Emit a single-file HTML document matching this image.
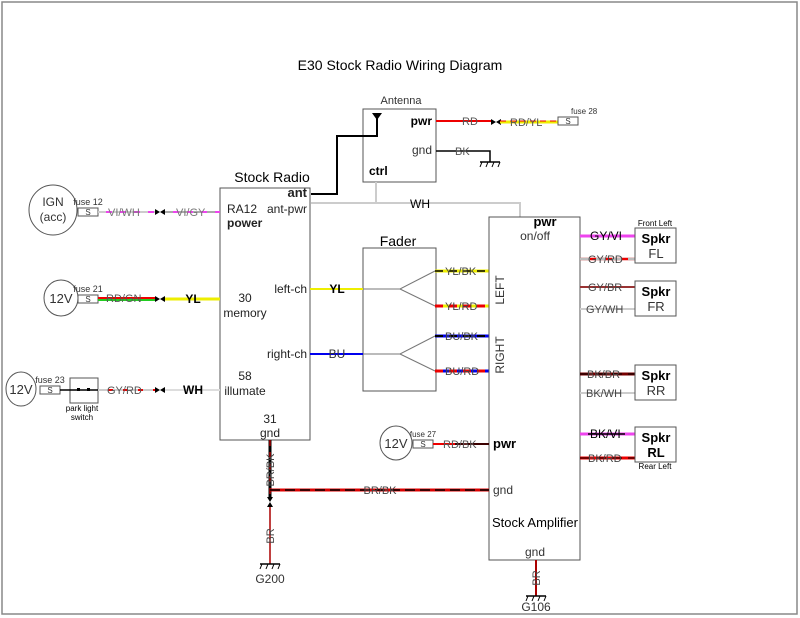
<!DOCTYPE html>
<html><head><meta charset="utf-8"><style>
html,body{margin:0;padding:0;background:#fff}
svg{display:block;font-family:"Liberation Sans",Arial,sans-serif}
</style></head><body>
<svg width="800" height="618" viewBox="0 0 800 618" xmlns="http://www.w3.org/2000/svg">
<defs>
<g id="gnd"><line x1="-10" y1="0" x2="10" y2="0" stroke="#000" stroke-width="1.5"/><line x1="-8" y1="0" x2="-10" y2="5" stroke="#000"/><line x1="-2" y1="0" x2="-4" y2="5" stroke="#000"/><line x1="4" y1="0" x2="2" y2="5" stroke="#000"/><line x1="10" y1="0" x2="8" y2="5" stroke="#000"/></g>
<g id="con"><path d="M-5,-3 L0,0 L-5,3Z M5,-3 L0,0 L5,3Z" fill="#000"/></g>
<g id="fuse"><rect x="0" y="-4" width="20" height="8" fill="#fff" stroke="#555"/><text x="10" y="3" font-size="8" text-anchor="middle" fill="#333">S</text></g>
</defs>
<rect x="2" y="2" width="795" height="612" fill="#fff" stroke="#888" stroke-width="1.5"/>
<text x="400" y="70" font-size="14" text-anchor="middle">E30 Stock Radio Wiring Diagram</text>

<!-- Radio -->
<text x="272" y="182" font-size="14" text-anchor="middle">Stock Radio</text>
<rect x="220" y="188" width="90" height="252" fill="#fff" stroke="#555"/>
<g font-size="12" fill="#222">
<text x="307" y="197" text-anchor="end" font-weight="bold" font-size="13">ant</text>
<text x="307" y="213" text-anchor="end">ant-pwr</text>
<text x="227" y="213">RA12</text>
<text x="227" y="227" font-weight="bold">power</text>
<text x="307" y="293" text-anchor="end">left-ch</text>
<text x="307" y="358" text-anchor="end">right-ch</text>
<text x="245" y="302" text-anchor="middle">30</text>
<text x="245" y="317" text-anchor="middle">memory</text>
<text x="245" y="380" text-anchor="middle">58</text>
<text x="245" y="395" text-anchor="middle">illumate</text>
<text x="270" y="423" text-anchor="middle">31</text>
<text x="270" y="437" text-anchor="middle">gnd</text>
</g>

<!-- Antenna -->
<text x="401" y="104" font-size="11" text-anchor="middle" fill="#333">Antenna</text>
<rect x="363" y="109" width="73" height="73" fill="#fff" stroke="#555"/>
<text x="432" y="125" font-size="12" font-weight="bold" text-anchor="end">pwr</text>
<text x="432" y="154" font-size="12" text-anchor="end" fill="#333">gnd</text>
<text x="369" y="175" font-size="12" font-weight="bold">ctrl</text>
<path d="M372,113 L382,113 L377,120Z" fill="#000"/><line x1="377" y1="113" x2="377" y2="120" stroke="#000" stroke-width="2"/>
<polyline points="311,194 337,194 337,136 377,136 377,120" fill="none" stroke="#000" stroke-width="2"/>
<!-- ant pwr WH -->
<polyline points="311,203 520,203 520,217" fill="none" stroke="#ccc" stroke-width="2"/>
<line x1="376" y1="182" x2="376" y2="203" stroke="#ccc" stroke-width="2"/>
<text x="420" y="208" font-size="12" text-anchor="middle">WH</text>
<!-- antenna pwr -->
<line x1="436" y1="121" x2="492" y2="121" stroke="#e00" stroke-width="2"/>
<use href="#con" x="496" y="122"/>
<line x1="500" y1="122" x2="558" y2="122" stroke="#ee0" stroke-width="3"/>
<line x1="500" y1="121" x2="558" y2="121" stroke="#e00" stroke-width="1" stroke-dasharray="6,4"/>
<text x="462" y="125" font-size="11" fill="#555">RD</text>
<text x="510" y="126" font-size="11" fill="#555">RD/YL</text>
<use href="#fuse" x="558" y="121"/>
<text x="571" y="114" font-size="8" fill="#333">fuse 28</text>
<polyline points="436,151 490,151 490,162" fill="none" stroke="#000" stroke-width="1.5"/>
<text x="455" y="155" font-size="11" fill="#555">BK</text>
<use href="#gnd" x="490" y="162"/>

<!-- IGN -->
<ellipse cx="53" cy="210" rx="24" ry="25" fill="#fff" stroke="#555"/>
<text x="53" y="206" font-size="12" text-anchor="middle" fill="#333">IGN</text>
<text x="53" y="221" font-size="12" text-anchor="middle" fill="#333">(acc)</text>
<use href="#fuse" x="78" y="212"/>
<text x="88" y="205" font-size="9" text-anchor="middle" fill="#333">fuse 12</text>
<line x1="98" y1="212" x2="155" y2="212" stroke="#e4e" stroke-width="2"/>
<line x1="98" y1="212" x2="155" y2="212" stroke="#ccc" stroke-width="2" stroke-dasharray="8,6"/>
<text x="108" y="216" font-size="11" fill="#777">VI/WH</text>
<use href="#con" x="160" y="212"/>
<line x1="165" y1="212" x2="220" y2="212" stroke="#e4e" stroke-width="2"/>
<line x1="165" y1="212" x2="220" y2="212" stroke="#aaa" stroke-width="2" stroke-dasharray="8,6"/>
<text x="176" y="216" font-size="11" fill="#777">VI/GY</text>

<!-- 12V fuse 21 -->
<ellipse cx="61" cy="298" rx="17" ry="18" fill="#fff" stroke="#555"/>
<text x="61" y="303" font-size="13" text-anchor="middle" fill="#333">12V</text>
<use href="#fuse" x="78" y="299"/>
<text x="88" y="292" font-size="9" text-anchor="middle" fill="#333">fuse 21</text>
<line x1="98" y1="298" x2="155" y2="298" stroke="#e00" stroke-width="2"/>
<line x1="98" y1="300" x2="155" y2="300" stroke="#2c2" stroke-width="2"/>
<text x="106" y="302" font-size="11" fill="#555">RD/GN</text>
<use href="#con" x="160" y="299"/>
<line x1="165" y1="299" x2="220" y2="299" stroke="#ee0" stroke-width="3"/>
<text x="193" y="303" font-size="12" text-anchor="middle" font-weight="bold">YL</text>

<!-- 12V fuse 23 -->
<ellipse cx="21" cy="389" rx="15" ry="17" fill="#fff" stroke="#555"/>
<text x="21" y="394" font-size="13" text-anchor="middle" fill="#333">12V</text>
<use href="#fuse" x="40" y="390"/>
<text x="50" y="383" font-size="9" text-anchor="middle" fill="#333">fuse 23</text>
<rect x="70" y="378" width="28" height="25" fill="#fff" stroke="#555"/>
<line x1="60" y1="390" x2="98" y2="390" stroke="#000" stroke-width="1.5"/>
<rect x="77" y="388" width="3" height="3" fill="#000"/><rect x="87" y="388" width="3" height="3" fill="#000"/>
<text x="82" y="411" font-size="8" text-anchor="middle">park light</text>
<text x="82" y="420" font-size="8" text-anchor="middle">switch</text>
<line x1="98" y1="390" x2="155" y2="390" stroke="#e00" stroke-width="2"/>
<line x1="98" y1="390" x2="155" y2="390" stroke="#ccc" stroke-width="2" stroke-dasharray="10,5"/>
<text x="107" y="394" font-size="11" fill="#555">GY/RD</text>
<use href="#con" x="160" y="390"/>
<line x1="165" y1="390" x2="220" y2="390" stroke="#ddd" stroke-width="2"/>
<text x="193" y="394" font-size="12" text-anchor="middle" font-weight="bold">WH</text>

<!-- Fader -->
<text x="398" y="246" font-size="14" text-anchor="middle">Fader</text>
<rect x="363" y="248" width="73" height="143" fill="#fff" stroke="#555"/>
<line x1="310" y1="289" x2="363" y2="289" stroke="#ee0" stroke-width="2"/>
<text x="337" y="293" font-size="12" text-anchor="middle" font-weight="bold">YL</text>
<line x1="310" y1="354" x2="363" y2="354" stroke="#00e" stroke-width="2"/>
<text x="337" y="358" font-size="12" text-anchor="middle" fill="#333">BU</text>
<polyline points="363,289 400,289 435,271" fill="none" stroke="#777"/>
<line x1="400" y1="289" x2="435" y2="306" stroke="#777"/>
<polyline points="363,354 400,354 435,336" fill="none" stroke="#777"/>
<line x1="400" y1="354" x2="435" y2="371" stroke="#777"/>
<line x1="435" y1="271" x2="489" y2="271" stroke="#ee0" stroke-width="3"/>
<line x1="435" y1="271" x2="489" y2="271" stroke="#000" stroke-width="1.5" stroke-dasharray="8,6"/>
<line x1="435" y1="306" x2="489" y2="306" stroke="#ee0" stroke-width="3"/>
<line x1="435" y1="306" x2="489" y2="306" stroke="#e00" stroke-width="3" stroke-dasharray="8,6"/>
<line x1="435" y1="336" x2="489" y2="336" stroke="#00e" stroke-width="3"/>
<line x1="435" y1="336" x2="489" y2="336" stroke="#000" stroke-width="2" stroke-dasharray="8,6"/>
<line x1="435" y1="371" x2="489" y2="371" stroke="#00e" stroke-width="3"/>
<line x1="435" y1="371" x2="489" y2="371" stroke="#e00" stroke-width="3" stroke-dasharray="8,6"/>
<g font-size="11" fill="#444">
<text x="445" y="275">YL/BK</text><text x="445" y="310">YL/RD</text>
<text x="445" y="340">BU/BK</text><text x="445" y="375">BU/RD</text>
</g>

<!-- Amp -->
<rect x="489" y="217" width="91" height="343" fill="#fff" stroke="#555"/>
<text x="545" y="226" font-size="13" text-anchor="middle" font-weight="bold">pwr</text>
<text x="535" y="240" font-size="12" text-anchor="middle" fill="#333">on/off</text>
<text transform="translate(504,290) rotate(-90)" font-size="12" text-anchor="middle" fill="#333">LEFT</text>
<text transform="translate(504,355) rotate(-90)" font-size="12" text-anchor="middle" fill="#333">RIGHT</text>
<text x="493" y="448" font-size="13" font-weight="bold">pwr</text>
<text x="493" y="494" font-size="12" fill="#333">gnd</text>
<text x="535" y="527" font-size="13" text-anchor="middle">Stock Amplifier</text>
<text x="535" y="556" font-size="12" text-anchor="middle" fill="#333">gnd</text>

<!-- 12V fuse 27 -->
<ellipse cx="396" cy="443" rx="16" ry="17" fill="#fff" stroke="#555"/>
<text x="396" y="448" font-size="13" text-anchor="middle" fill="#333">12V</text>
<use href="#fuse" x="413" y="444"/>
<text x="423" y="437" font-size="8" text-anchor="middle" fill="#333">fuse 27</text>
<line x1="433" y1="444" x2="489" y2="444" stroke="#e00" stroke-width="2"/>
<line x1="455" y1="444" x2="489" y2="444" stroke="#000" stroke-width="1.5"/>
<text x="443" y="448" font-size="11" fill="#555">RD/BK</text>

<!-- Speakers -->
<g font-size="11" fill="#444">
<line x1="580" y1="236" x2="635" y2="236" stroke="#e4e" stroke-width="3"/>
<text x="590" y="240" fill="#000" font-size="12">GY/VI</text>
<line x1="580" y1="259" x2="635" y2="259" stroke="#e00" stroke-width="2.5"/>
<line x1="580" y1="259" x2="635" y2="259" stroke="#bbb" stroke-width="2.5" stroke-dasharray="10,6"/>
<text x="588" y="263">GY/RD</text>
<line x1="580" y1="287" x2="635" y2="287" stroke="#933" stroke-width="2"/>
<text x="588" y="291">GY/BR</text>
<line x1="580" y1="309" x2="635" y2="309" stroke="#ccc" stroke-width="2"/>
<text x="586" y="313">GY/WH</text>
<line x1="580" y1="374" x2="635" y2="374" stroke="#700" stroke-width="3"/>
<line x1="580" y1="374" x2="635" y2="374" stroke="#000" stroke-width="1" stroke-dasharray="10,6"/>
<text x="587" y="378">BK/BR</text>
<line x1="580" y1="393" x2="635" y2="393" stroke="#ccc" stroke-width="2"/>
<text x="586" y="397">BK/WH</text>
<line x1="580" y1="434" x2="635" y2="434" stroke="#e4e" stroke-width="3"/>
<line x1="588" y1="434" x2="625" y2="434" stroke="#000" stroke-width="1.5"/>
<text x="590" y="438" fill="#000" font-size="12">BK/VI</text>
<line x1="580" y1="458" x2="635" y2="458" stroke="#e00" stroke-width="3"/>
<line x1="580" y1="458" x2="635" y2="458" stroke="#000" stroke-width="1" stroke-dasharray="10,6"/>
<text x="588" y="462">BK/RD</text>
</g>
<text x="655" y="226" font-size="8" text-anchor="middle">Front Left</text>
<text x="655" y="469" font-size="8" text-anchor="middle">Rear Left</text>
<g fill="#fff" stroke="#555">
<rect x="635" y="228" width="41" height="35"/><rect x="635" y="281" width="41" height="35"/>
<rect x="635" y="365" width="41" height="35"/><rect x="635" y="427" width="41" height="35"/>
</g>
<g font-size="13" text-anchor="middle">
<text x="656" y="243" font-weight="bold">Spkr</text><text x="656" y="258" fill="#333">FL</text>
<text x="656" y="296" font-weight="bold">Spkr</text><text x="656" y="311" fill="#333">FR</text>
<text x="656" y="380" font-weight="bold">Spkr</text><text x="656" y="395" fill="#333">RR</text>
<text x="656" y="442" font-weight="bold">Spkr</text><text x="656" y="457" font-weight="bold">RL</text>
</g>

<!-- grounds -->
<line x1="270" y1="440" x2="270" y2="497" stroke="#000" stroke-width="3"/>
<line x1="270" y1="440" x2="270" y2="497" stroke="#a00" stroke-width="1.5" stroke-dasharray="6,6"/>
<text transform="translate(274,470) rotate(-90)" font-size="11" text-anchor="middle" fill="#444">BR/BK</text>
<line x1="270" y1="490" x2="489" y2="490" stroke="#d00" stroke-width="3"/>
<line x1="270" y1="490" x2="489" y2="490" stroke="#000" stroke-width="1.5" stroke-dasharray="10,5"/>
<text x="380" y="494" font-size="11" text-anchor="middle" fill="#444">BR/BK</text>
<path d="M267,497 L273,497 L270,502Z M267,507 L273,507 L270,502Z" fill="#000"/>
<line x1="270" y1="507" x2="270" y2="564" stroke="#a00" stroke-width="1.5"/>
<text transform="translate(274,536) rotate(-90)" font-size="11" text-anchor="middle" fill="#444">BR</text>
<use href="#gnd" x="270" y="564"/>
<text x="270" y="583" font-size="12" text-anchor="middle" fill="#333">G200</text>
<line x1="536" y1="560" x2="536" y2="596" stroke="#a00" stroke-width="2"/>
<text transform="translate(540,578) rotate(-90)" font-size="11" text-anchor="middle" fill="#444">BR</text>
<use href="#gnd" x="536" y="596"/>
<text x="536" y="611" font-size="12" text-anchor="middle" fill="#333">G106</text>
</svg>
</body></html>
